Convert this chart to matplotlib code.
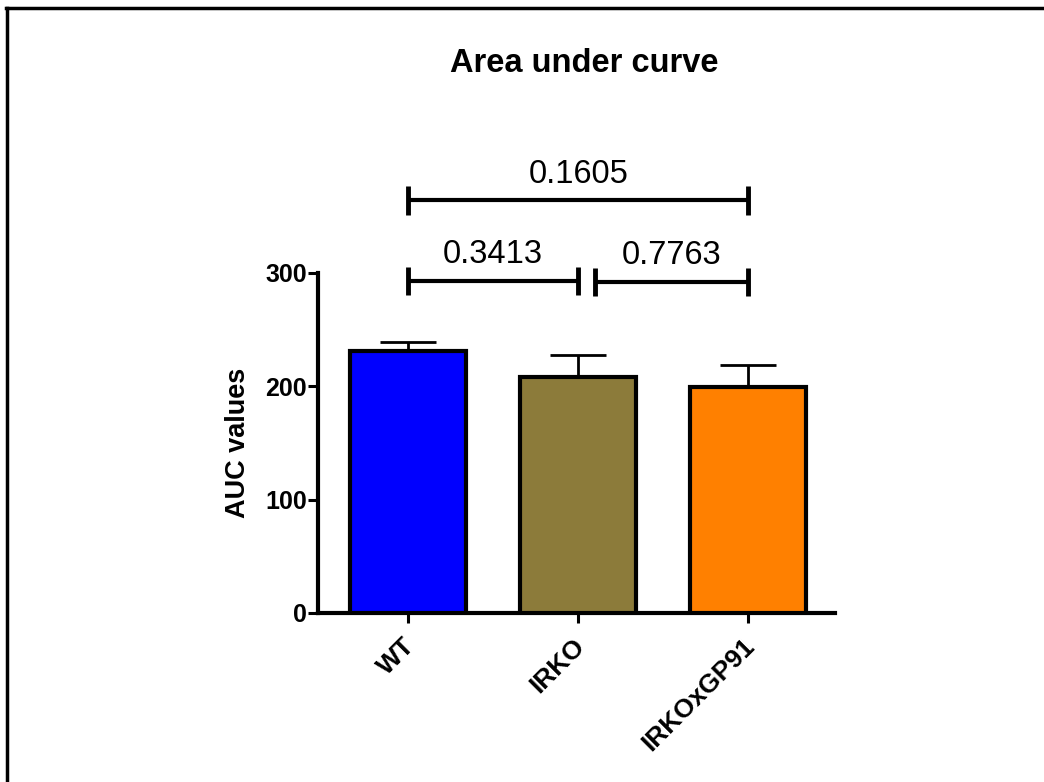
import matplotlib
matplotlib.use("Agg")
import matplotlib.pyplot as plt
from matplotlib.lines import Line2D
from matplotlib.transforms import ScaledTranslation

plt.rcParams['font.family'] = ['Liberation Sans', 'DejaVu Sans']

categories = ["WT", "IRKO", "IRKOxGP91"]
means = [231, 208, 199]
errors = [8.5, 20, 19.5]
colors = ["#0000FF", "#8C7B3A", "#FF8000"]
yticks = [0, 100, 200, 300]

comparisons = [(0, 2, 364, "0.1605"), (0, 1, 293, "0.3413"), (1.1, 2, 292, "0.7763")]

fig = plt.figure(figsize=(10.44, 7.82), dpi=100)
ax = fig.add_axes([318/1044, 1-613/782, (835-318)/1044, 340/782])

x = list(range(len(categories)))
ax.bar(x, means, width=0.68, color=colors, edgecolor='black', linewidth=3, zorder=3)
ax.errorbar(x, means, yerr=[[0]*3, errors], fmt='none', ecolor='black',
            elinewidth=2, capsize=20, capthick=2, zorder=2)

ax.set_xlim(-0.53, 2.51)
ax.set_ylim(0, 300)
ax.set_yticks(yticks)
ax.set_yticklabels([str(v) for v in yticks], fontsize=18, fontweight='bold')
ax.set_xticks(x)
ax.set_xticklabels(categories, fontsize=19, fontweight='bold', rotation=45,
                   ha='right', rotation_mode='anchor')
ax.tick_params(axis='both', width=2.2, length=7, direction='out')
ax.tick_params(axis='y', pad=1)
off = ScaledTranslation(-6/100, -6/100, fig.dpi_scale_trans)
for lbl in ax.get_xticklabels():
    lbl.set_transform(lbl.get_transform() + off)
for s in ['top', 'right']:
    ax.spines[s].set_visible(False)
for s in ['left', 'bottom']:
    ax.spines[s].set_linewidth(3)
ax.set_ylabel("AUC values", fontsize=19.5, fontweight='bold', labelpad=10)

cap = 12.5
for x1, x2, yv, label in comparisons:
    ax.plot([x1, x2], [yv, yv], color='black', lw=3, clip_on=False, solid_capstyle='butt')
    ax.plot([x1, x1], [yv - cap, yv + cap], color='black', lw=3.5, clip_on=False, solid_capstyle='butt')
    ax.plot([x2, x2], [yv - cap, yv + cap], color='black', lw=3.5, clip_on=False, solid_capstyle='butt')
    ax.text((x1 + x2) / 2, yv + 23, label, ha='center', va='center', fontsize=23.5, clip_on=False)

fig.text(584/1044, 1-64/782, "Area under curve", ha='center', va='center',
         fontsize=23.5, fontweight='bold')

# partial border (top and left)
fig.add_artist(Line2D([6/1044, 1], [1-8/782, 1-8/782], color='black', lw=2.5,
                      transform=fig.transFigure))
fig.add_artist(Line2D([7/1044, 7/1044], [0, 1-8/782], color='black', lw=2.5,
                      transform=fig.transFigure))

fig.savefig("out.png", dpi=100, facecolor='white')
